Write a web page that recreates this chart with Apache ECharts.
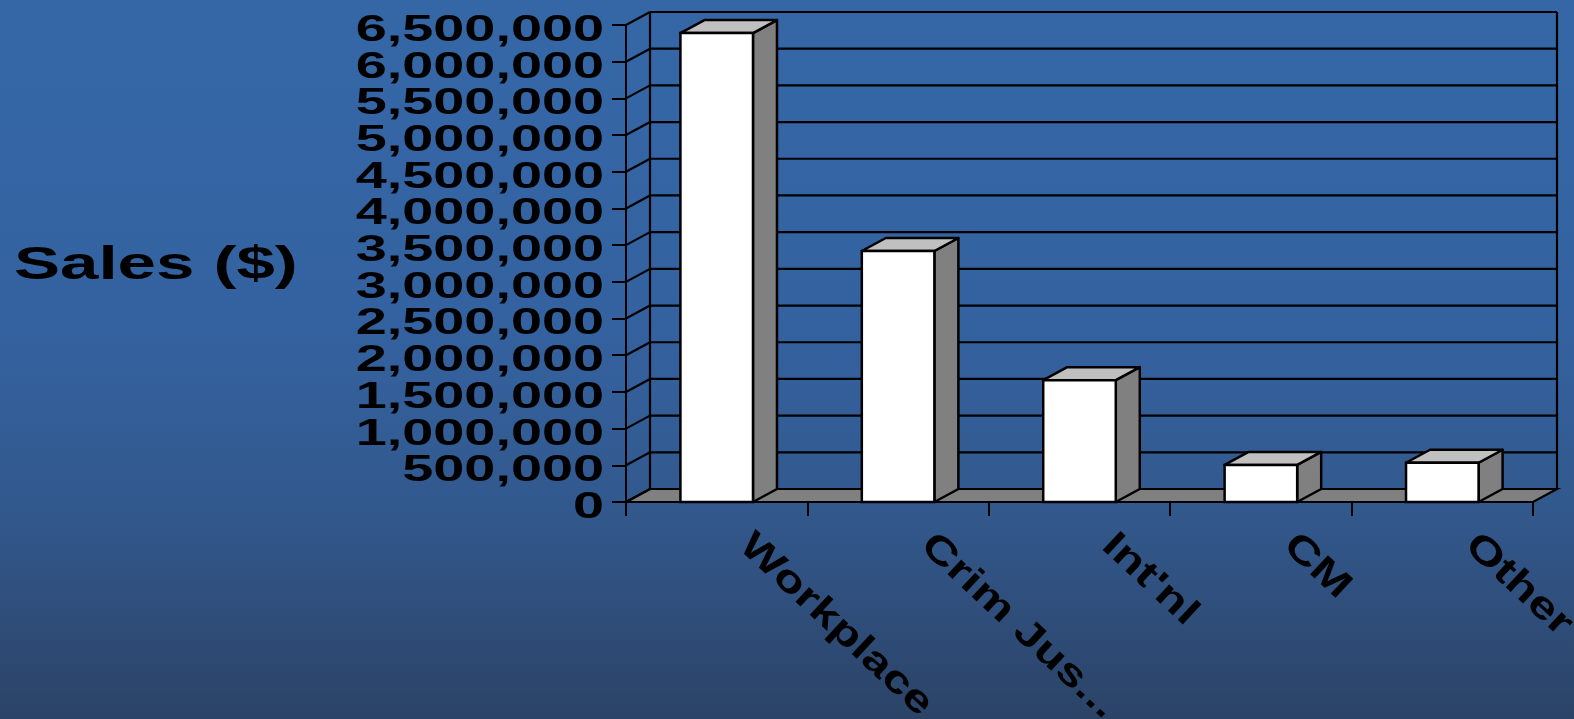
<!DOCTYPE html>
<html>
<head>
<meta charset="utf-8">
<script src="https://cdn.jsdelivr.net/npm/echarts@6/dist/echarts.min.js"></script>
<style>
  html, body { margin: 0; padding: 0; width: 1574px; height: 719px; overflow: hidden; }
  #chart { width: 1574px; height: 719px; }
</style>
</head>
<body>
<div id="chart"></div>
<script>
// ---- data ----
const categories = ['Workplace', 'Crim Jus...', "Int'nl", 'CM', 'Other'];
const salesValues = [6390000, 3420000, 1660000, 505000, 535000];
const yTickValues = [0, 500000, 1000000, 1500000, 2000000, 2500000, 3000000,
  3500000, 4000000, 4500000, 5000000, 5500000, 6000000, 6500000];
const yTickLabels = ['0', '500,000', '1,000,000', '1,500,000', '2,000,000', '2,500,000', '3,000,000',
  '3,500,000', '4,000,000', '4,500,000', '5,000,000', '5,500,000', '6,000,000', '6,500,000'];
const axisTitle = 'Sales ($)';

// ---- style ----
const DX = 24, DY = -13;
const LINE = '#000000';
const FONT = '"Liberation Sans", Arial, sans-serif';

const chart = echarts.init(document.getElementById('chart'));

function plotFrame(api) {
  const band = api.size([1, 0])[0];
  const c0 = api.coord([0, 0]);
  const cN = api.coord([categories.length - 1, 0]);
  const top = api.coord([0, yTickValues[yTickValues.length - 1]])[1];
  return { x0: c0[0] - band / 2, x1: cN[0] + band / 2, y0: c0[1], yTop: top, band: band };
}

const option = {
  animation: false,
  backgroundColor: {
    type: 'linear', x: 0, y: 0, x2: 0, y2: 1,
    colorStops: [
      { offset: 0, color: '#3567a7' },
      { offset: 0.45, color: '#3462a0' },
      { offset: 0.7, color: '#32598e' },
      { offset: 0.85, color: '#2f4e7b' },
      { offset: 1, color: '#2b4366' }
    ]
  },
  grid: { left: 626, right: 41, top: 25, bottom: 217, containLabel: false, outerBoundsMode: 'none' },
  xAxis: {
    type: 'category',
    data: categories,
    boundaryGap: true,
    axisLine: { show: true, lineStyle: { color: LINE, width: 2 } },
    axisTick: { show: true, length: 14, alignWithLabel: false, lineStyle: { color: LINE, width: 2 } },
    axisLabel: { show: false },
    splitLine: { show: false }
  },
  yAxis: {
    type: 'value',
    min: 0,
    max: 6500000,
    interval: 500000,
    axisLine: { show: true, lineStyle: { color: LINE, width: 2 } },
    axisTick: { show: true, length: 14, inside: false, lineStyle: { color: LINE, width: 2 } },
    axisLabel: { show: false },
    splitLine: { show: false }
  },
  graphic: [{
    type: 'text',
    x: 14, y: 266,
    scaleX: 1.5,
    style: { text: axisTitle, fill: '#000', font: 'bold 46px ' + FONT, align: 'left', verticalAlign: 'middle' },
    silent: true
  }],
  series: [
    // floor + back-wall verticals
    {
      type: 'custom', silent: true, z: 1,
      data: [[0, 0]],
      renderItem: function (params, api) {
        const f = plotFrame(api);
        return {
          type: 'group',
          children: [
            { type: 'polygon', shape: { points: [[f.x0, f.y0], [f.x1, f.y0], [f.x1 + DX, f.y0 + DY], [f.x0 + DX, f.y0 + DY]] },
              style: { fill: '#808080', stroke: LINE, lineWidth: 2.2 } },
            { type: 'line', shape: { x1: f.x0 + DX, y1: f.yTop + DY, x2: f.x0 + DX, y2: f.y0 + DY },
              style: { stroke: LINE, lineWidth: 2.2 } },
            { type: 'line', shape: { x1: f.x1 + DX, y1: f.yTop + DY, x2: f.x1 + DX, y2: f.y0 + DY },
              style: { stroke: LINE, lineWidth: 2.2 } }
          ]
        };
      }
    },
    // gridlines on back wall and left wall
    {
      type: 'custom', silent: true, z: 2,
      data: yTickValues.map(function (v) { return [0, v]; }),
      renderItem: function (params, api) {
        const f = plotFrame(api);
        const y = api.coord([0, api.value(1)])[1];
        return {
          type: 'group',
          children: [
            { type: 'line', shape: { x1: f.x0 + DX, y1: y + DY, x2: f.x1 + DX, y2: y + DY }, style: { stroke: LINE, lineWidth: 2.2 } },
            { type: 'line', shape: { x1: f.x0, y1: y, x2: f.x0 + DX, y2: y + DY }, style: { stroke: LINE, lineWidth: 2.2 } }
          ]
        };
      }
    },
    // y tick labels (stretched bold text)
    {
      type: 'custom', silent: true, z: 3,
      data: yTickValues.map(function (v) { return [0, v]; }),
      renderItem: function (params, api) {
        const f = plotFrame(api);
        const y = api.coord([0, api.value(1)])[1];
        return {
          type: 'text',
          x: f.x0 - 22, y: y + 6,
          scaleX: 1.55,
          style: { text: yTickLabels[params.dataIndex], fill: '#000', font: 'bold 36px ' + FONT, align: 'right', verticalAlign: 'middle' }
        };
      }
    },
    // category labels
    {
      type: 'custom', silent: true, z: 3,
      data: categories.map(function (c, i) { return [i, 0]; }),
      renderItem: function (params, api) {
        const p = api.coord([api.value(0), 0]);
        return {
          type: 'text',
          x: p[0] + 28, y: p[1] + 38,
          rotation: -43 * Math.PI / 180,
          scaleX: 1.3,
          style: { text: categories[params.dataIndex], fill: '#000', font: 'bold 38px ' + FONT, align: 'left', verticalAlign: 'middle' }
        };
      }
    },
    // 3D bars
    {
      type: 'custom', name: 'Sales', silent: true, z: 5,
      data: salesValues.map(function (v, i) { return [i, v]; }),
      renderItem: function (params, api) {
        const band = api.size([1, 0])[0];
        const p = api.coord([api.value(0), api.value(1)]);
        const b = api.coord([api.value(0), 0]);
        const w = band * 0.4;
        const l = p[0] - w / 2, r = p[0] + w / 2, t = p[1], bot = b[1];
        return {
          type: 'group',
          children: [
            { type: 'polygon', shape: { points: [[r, t], [r + DX, t + DY], [r + DX, bot + DY], [r, bot]] },
              style: { fill: '#808080', stroke: LINE, lineWidth: 2.5, lineJoin: 'round' } },
            { type: 'polygon', shape: { points: [[l, t], [r, t], [r + DX, t + DY], [l + DX, t + DY]] },
              style: { fill: '#c0c0c0', stroke: LINE, lineWidth: 2.5, lineJoin: 'round' } },
            { type: 'rect', shape: { x: l, y: t, width: w, height: bot - t },
              style: { fill: '#ffffff', stroke: LINE, lineWidth: 2.5 } }
          ]
        };
      }
    }
  ]
};

chart.setOption(option);
</script>
</body>
</html>
